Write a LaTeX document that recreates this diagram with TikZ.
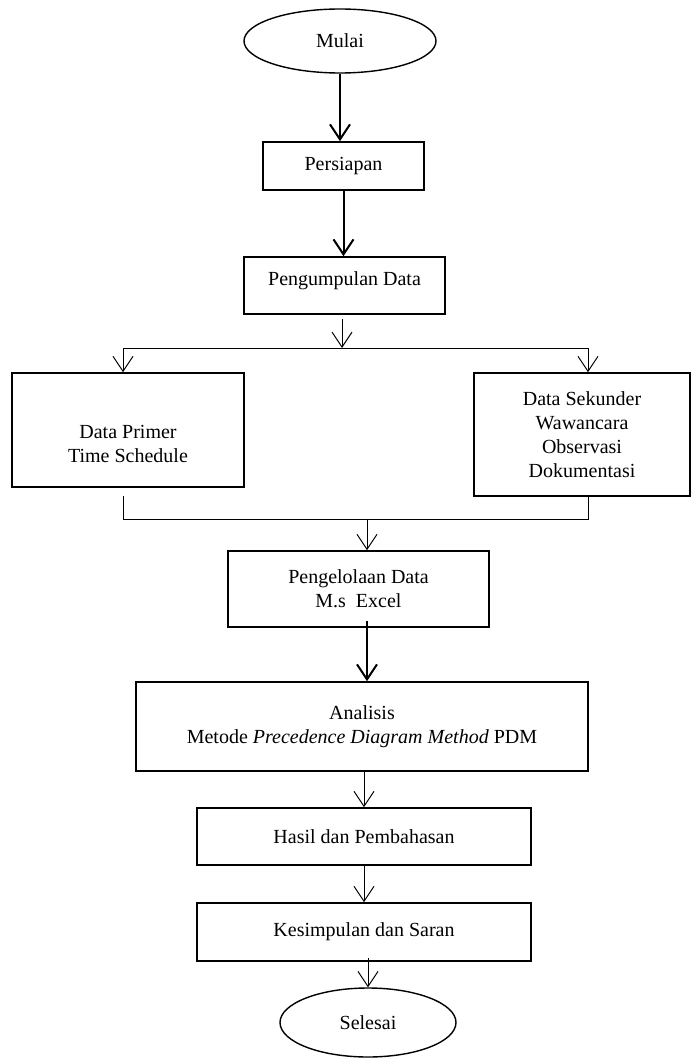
\documentclass[tikz,border=0pt]{standalone}
\usepackage{fontspec}
\setmainfont{Liberation Serif}
\usetikzlibrary{shapes.geometric,arrows.meta}

\begin{document}
\begin{tikzpicture}[x=1pt,y=-1pt,
    font=\fontsize{20}{24}\selectfont,
    box/.style={rectangle, draw, line width=1.6pt, align=center, inner sep=0pt},
    oval/.style={ellipse, draw, line width=1.4pt, inner sep=0pt},
    arr/.style={-{Straight Barb[length=15pt,width=20pt]}, line width=1pt},
    thickarr/.style={arr, line width=2pt}]
    \useasboundingbox (0,0) rectangle (691,1059);

    % Nodes
    \node[oval, minimum width=192pt, minimum height=64pt] (mulai) at (340,41) {Mulai};
    \node[box, minimum width=161pt, minimum height=48pt] (persiapan) at (343.5,166) {Persiapan};
    \node[box, minimum width=201pt, minimum height=57pt] (pengumpulan) at (344.5,285.5) {Pengumpulan Data\\[-11pt]};
    \node[box, minimum width=232pt, minimum height=114pt] (primer) at (128,430) {\strut\\Data Primer\\Time Schedule};
    \node[box, minimum width=216pt, minimum height=123pt] (sekunder) at (582,434.5) {Data Sekunder\\Wawancara\\Observasi\\Dokumentasi};
    \node[box, minimum width=261pt, minimum height=76pt] (pengelolaan) at (358.5,589) {Pengelolaan Data\\M.s\ \ Excel};
    \node[box, minimum width=452pt, minimum height=89pt] (analisis) at (362,726.5) {Analisis\\Metode \textit{Precedence Diagram Method} PDM};
    \node[box, minimum width=334pt, minimum height=57pt] (hasil) at (364,836.5) {Hasil dan Pembahasan};
    \node[box, minimum width=334pt, minimum height=58pt] (kesimpulan) at (364,932) {Kesimpulan dan Saran};
    \node[oval, minimum width=176pt, minimum height=69pt] (selesai) at (368,1022.5) {Selesai};

    % Junctions
    \coordinate (split) at (342,348);
    \coordinate (splitL) at (123,348);
    \coordinate (splitR) at (588,348);
    \coordinate (mergeL) at (123,519);
    \coordinate (mergeR) at (588,519);
    \coordinate (merge) at (367,519);

    % Edges
    \draw[thickarr] (mulai.south) -- (mulai.south |- persiapan.north);
    \draw[thickarr] (persiapan.south) -- (persiapan.south |- pengumpulan.north);
    \draw[arr] (split |- pengumpulan.south) ++(0,4) -- (split);
    \draw (splitL) -- (splitR);
    \draw[arr] (splitL) -- (splitL |- primer.north);
    \draw[arr] (splitR) -- (splitR |- sekunder.north);
    \draw (mergeL |- primer.south) ++(0,8) -- (mergeL) -- (mergeR) -- (mergeR |- sekunder.south);
    \draw[arr] (merge) -- (merge |- pengelolaan.north);
    \draw[thickarr] (merge |- pengelolaan.south) ++(0,-7) -- (merge |- analisis.north);
    \draw[arr] (hasil.north |- analisis.south) -- (hasil.north);
    \draw[arr] (hasil.south) -- (kesimpulan.north);
    \draw[arr] (selesai.north |- kesimpulan.south) ++(0,-4) -- (selesai.north);
\end{tikzpicture}
\end{document}
